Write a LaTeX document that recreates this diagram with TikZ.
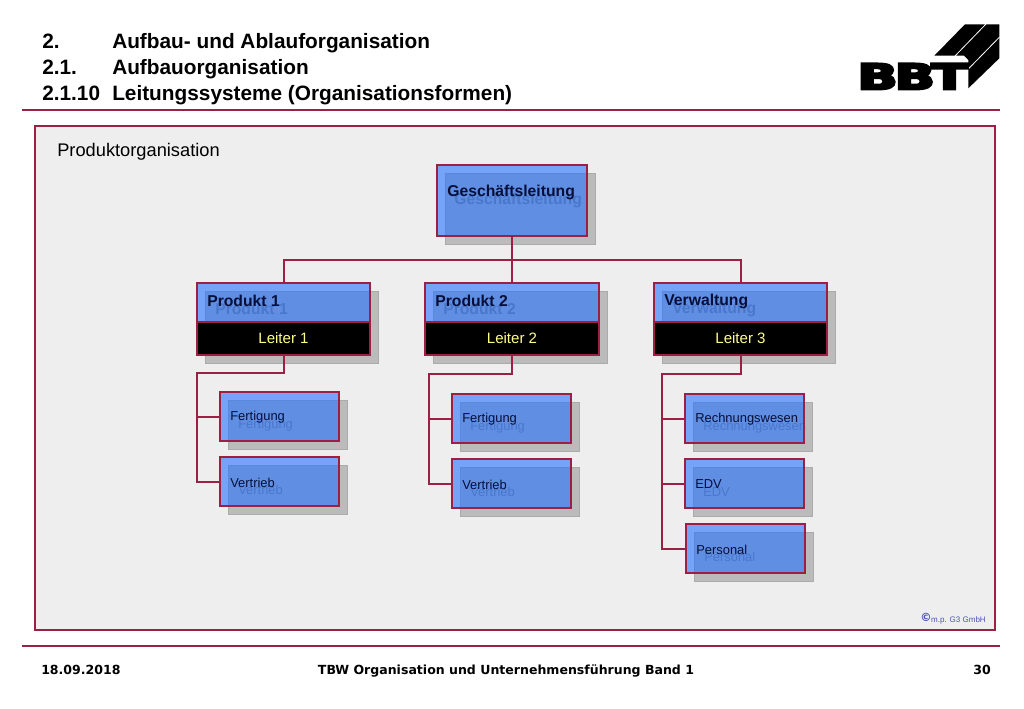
\documentclass[tikz,border=0pt]{standalone}
\usepackage{fontspec}
\setmainfont{Liberation Sans}
\newfontfamily\footfont{DejaVu Sans}
\newfontfamily\logofont[FakeBold=6]{DejaVu Sans Bold}
\definecolor{rulered}{HTML}{9C1F45}
\definecolor{panelbg}{HTML}{EEEEEE}
\definecolor{boxblue}{HTML}{2371FF}
\definecolor{shadowgray}{HTML}{BBBBBB}
\definecolor{shadowedge}{HTML}{ABABAB}
\definecolor{navy}{HTML}{050F3A}
\definecolor{copyblue}{HTML}{4A55B0}
\definecolor{leiteryellow}{HTML}{FFFF88}
\tikzset{
  txt/.style={inner sep=0pt,anchor=base west,text=black},
  shadowbox/.style={draw=shadowedge,line width=.7pt,fill=shadowgray,inner sep=0pt,outer sep=0pt,anchor=north west},
  bluebox/.style={draw=rulered,line width=1.25pt,fill=boxblue,fill opacity=.6,inner sep=0pt,outer sep=0pt,anchor=north west},
  leiterbox/.style={draw=rulered,line width=1.25pt,fill=black,text=leiteryellow,inner sep=0pt,outer sep=0pt,anchor=north west,font=\fontsize{11.3}{13}\selectfont},
  conn/.style={draw=rulered,line width=1.5pt},
  shadowtext/.style={inner sep=0pt,anchor=west,text=gray},
  toptext/.style={inner sep=0pt,anchor=west,text=navy},
  bigfont/.style={font=\fontsize{11.8}{13}\selectfont\bfseries},
  smallfont/.style={font=\fontsize{9.7}{11}\selectfont},
  titlefont/.style={font=\fontsize{15.6}{18}\selectfont\bfseries},
  footerfont/.style={font=\footfont\fontsize{9.4}{11}\selectfont\bfseries},
}
% name, x, y, text, top-text offset y
\newcommand{\subbox}[5]{%
  \node[shadowbox,minimum width=119*.75pt,minimum height=49*.75pt] (#1s) at (#2+8,#3+8) {};
  \node[shadowtext,smallfont] (#1st) at (#2+18,#3+33) {#4};
  \node[bluebox,minimum width=119*.75pt,minimum height=49*.75pt] (#1) at (#2,#3) {};
  \node[toptext,smallfont] (#1tt) at (#2+10,#3+#5) {#4};
}
% number, x, width, title text, leiter text
\newcommand{\prodbox}[5]{%
  \node[shadowbox,minimum width=#3*.75pt,minimum height=72*.75pt] (p#1s) at (#2+8,291) {};
  \node[shadowtext,bigfont] (p#1st) at (#2+18,309) {#4};
  \node[bluebox,minimum width=#3*.75pt,minimum height=39*.75pt] (p#1) at (#2,283) {};
  \node[leiterbox,minimum width=#3*.75pt,minimum height=33*.75pt] (l#1) at (#2,322) {#5};
  \node[toptext,bigfont] (p#1tt) at (#2+10,301) {#4};
}
\begin{document}
\begin{tikzpicture}[x=.75pt,y=-.75pt]
\useasboundingbox (0,0) rectangle (1024,709);
\fill[white] (0,0) rectangle (1024,709);

% header
\node[txt,titlefont] (t1a) at (42,48.5) {2.};
\node[txt,titlefont] (t1b) at (112,48.5) {Aufbau- und Ablauforganisation};
\node[txt,titlefont] (t2a) at (42,74.5) {2.1.};
\node[txt,titlefont] (t2b) at (112,74.5) {Aufbauorganisation};
\node[txt,titlefont] (t3a) at (42,100.5) {2.1.10};
\node[txt,titlefont] (t3b) at (112,100.5) {Leitungssysteme (Organisationsformen)};

% logo
\fill[black] (934.3,55.7) -- (965,24.3) -- (999.3,24.3) -- (999.3,58.3) -- (968.3,88.3) -- (968.3,60) -- (964,55.7) -- cycle;
\draw[white,line width=.6pt] (955,56) -- (986,24) (968.3,69) -- (999.6,37);
\node[inner sep=0pt,anchor=base,text=black] (logo) at (912.5,89.3) {\scalebox{1.5}[1]{\logofont\fontsize{26.5}{28}\selectfont B\kern-1.6pt B\kern-1.8pt T}};

\draw[conn] (22,110) -- (1000,110);
\draw[conn] (22,646) -- (1000,646);

% panel
\node[draw=rulered,line width=1.5pt,fill=panelbg,inner sep=0pt,outer sep=0pt,anchor=north west,minimum width=960*.75pt,minimum height=504*.75pt] (panel) at (35,126) {};
\node[txt,font=\fontsize{13.7}{16}\selectfont] (ptitle) at (57,156.5) {Produktorganisation};

% boxes
\node[shadowbox,minimum width=150*.75pt,minimum height=71*.75pt] (gls) at (445,173) {};
\node[shadowtext,bigfont] (glst) at (454,200) {Geschäftsleitung};
\node[bluebox,minimum width=150*.75pt,minimum height=71*.75pt] (gl) at (437,165) {};
\node[toptext,bigfont] (gltt) at (447,192) {Geschäftsleitung};

\prodbox{1}{197}{173}{Produkt 1}{Leiter 1}
\prodbox{2}{425}{174}{Produkt 2}{Leiter 2}
\prodbox{3}{654}{173}{Verwaltung}{Leiter 3}

\subbox{fa}{220}{392}{Fertigung}{25.5}
\subbox{va}{220}{457}{Vertrieb}{25.5}
\subbox{fb}{452}{394}{Fertigung}{25.5}
\subbox{vb}{452}{459}{Vertrieb}{25.5}
\subbox{rc}{685}{394}{Rechnungswesen}{25.5}
\subbox{vc}{685}{459}{EDV}{25.5}
\subbox{pc}{686}{524}{Personal}{25.5}

% connectors
\coordinate (topbus) at (512,260);
\coordinate (bus1) at (197,373);
\coordinate (bus2) at (429,374);
\coordinate (bus3) at (662,374);
\draw[conn] (gl.south) -- (p2.north);
\draw[conn] (p1.north) |- (topbus) -| (p3.north);
\draw[conn] (l1.south) |- (bus1) |- (fa.west);
\draw[conn] (bus1) |- (va.west);
\draw[conn] (l2.south) |- (bus2) |- (fb.west);
\draw[conn] (bus2) |- (vb.west);
\draw[conn] (l3.south) |- (bus3) |- (rc.west);
\draw[conn] (bus3) |- (vc.west);
\draw[conn] (bus3) |- (pc.west);

% copyright
\node[inner sep=0pt,anchor=base east,text=copyblue,font=\fontsize{6}{7}\selectfont] (copy) at (986,622) {m.p. G3 GmbH};
\node[inner sep=0pt,anchor=base east,text=copyblue,font=\footfont\fontsize{8.5}{9}\selectfont\bfseries] (copysign) at (932,621.5) {©};

% footer
\node[txt,footerfont] (date) at (41,674) {18.09.2018};
\node[inner sep=0pt,anchor=base,footerfont] (ftitle) at (506,674) {TBW Organisation und Unternehmensführung Band 1};
\node[inner sep=0pt,anchor=base east,footerfont] (page) at (991,674) {30};
\end{tikzpicture}
\end{document}
